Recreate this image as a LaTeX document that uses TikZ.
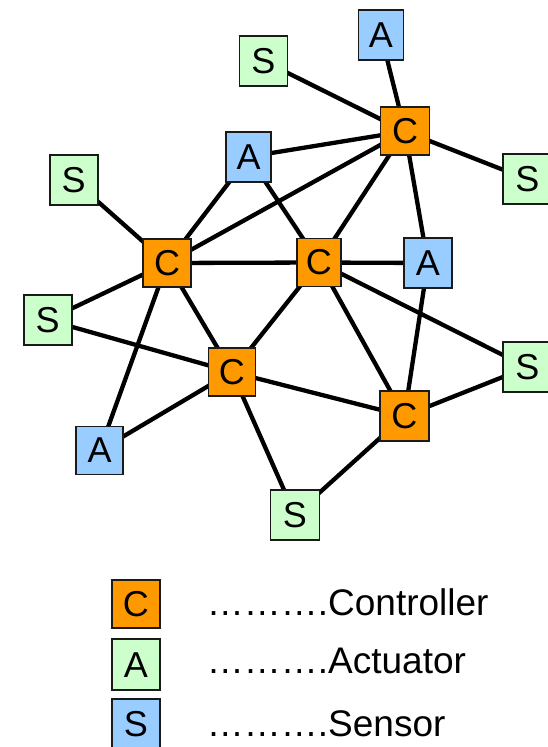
\documentclass[tikz,border=0pt]{standalone}
\usepackage{fontspec}
\setmainfont{Liberation Sans}
\usetikzlibrary{backgrounds}
\definecolor{corange}{HTML}{FF9900}
\definecolor{sgreen}{HTML}{CCFFCC}
\definecolor{ablue}{HTML}{99CCFF}
\definecolor{bordercol}{HTML}{1A1A1A}
\tikzset{
  box/.style={draw=bordercol, line width=1.8pt, inner sep=0pt, outer sep=0pt,
    font=\fontsize{36}{38}\selectfont, text=black},
  cbox/.style={box, fill=corange, minimum width=49pt, minimum height=48pt},
  abox/.style={box, fill=ablue, minimum width=45pt, minimum height=50pt},
  sbox/.style={box, fill=sgreen, minimum width=48pt, minimum height=50pt},
  link/.style={line width=4.3pt, black},
  legtext/.style={anchor=base west, inner sep=0pt, font=\fontsize{37}{40}\selectfont}
}
\begin{document}
\begin{tikzpicture}[x=1pt,y=-1pt]
\useasboundingbox (0,0) rectangle (548,747);
\begin{scope}
\clip (0,0) rectangle (548,747);
% nodes
\node[sbox] (S1) at (263.4,60.8) {S};
\node[abox] (A1) at (381,34.7) {A};
\node[cbox] (C1) at (405,131.3) {C};
\node[sbox] (S2) at (527.3,179.3) {S};
\node[abox] (A2) at (248.7,156.7) {A};
\node[sbox] (S3) at (73.6,180) {S};
\node[cbox, minimum width=48pt] (C2) at (167.2,263) {C};
\node[cbox, minimum width=44pt] (C3) at (318.9,262.5) {C};
\node[abox, minimum width=48pt] (A3) at (427.8,263) {A};
\node[sbox] (S4) at (47.7,320) {S};
\node[cbox, minimum width=47pt] (C4) at (231.9,372) {C};
\node[sbox] (S5) at (527.3,367.3) {S};
\node[cbox, minimum height=50pt] (C5) at (404.4,416) {C};
\node[abox, minimum width=47pt, minimum height=48pt] (A4) at (99.6,450.5) {A};
\node[sbox, minimum width=49pt] (S6) at (295,514.7) {S};
% edges
\begin{scope}[on background layer]
\foreach \a/\b in {S1/C1, A1/C1, C1/S2, C1/A2, C1/C2, C1/C3, C1/A3,
  S3/C2, A2/C2, A2/C3, C2/C3, C3/A3, C2/S4, C2/A4, C2/C4, C3/C4, C3/C5,
  C3/S5, A3/C5, S4/C4, C4/A4, C4/C5, C4/S6, C5/S5, C5/S6}
  \draw[link] (\a.center) -- (\b.center);
\end{scope}
% legend
\node[cbox, minimum width=48pt] (LC) at (135.8,604.2) {C};
\node[sbox, minimum width=48pt, minimum height=51pt] (LA) at (135.8,664.7) {A};
\node[abox, minimum width=48pt, minimum height=50pt] (LS) at (135.8,724) {S};
\node[legtext] (TC) at (206.7,615) {……….Controller};
\node[legtext] (TA) at (206.7,673.3) {……….Actuator};
\node[legtext] (TS) at (206.7,736.7) {……….Sensor};
\end{scope}
\end{tikzpicture}
\end{document}
